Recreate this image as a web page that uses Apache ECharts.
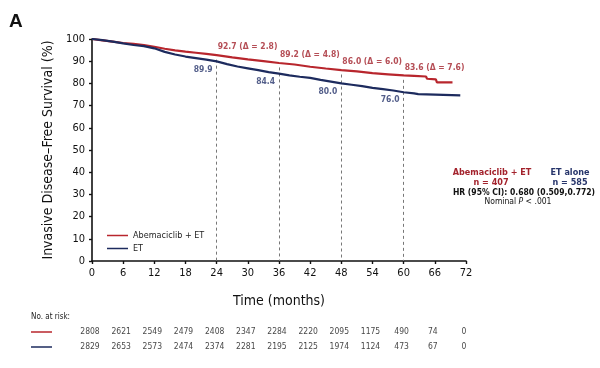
<!DOCTYPE html>
<html><head><meta charset="utf-8">
<script src="https://cdn.jsdelivr.net/npm/echarts@6/dist/echarts.min.js"></script>
<style>html,body{margin:0;padding:0;background:#fff}#c{width:600px;height:368px}</style>
</head><body><div id="c"></div>
<script>
// ---- data ----
const xTicks = [0, 6, 12, 18, 24, 30, 36, 42, 48, 54, 60, 66, 72];
const abemaMonths = [0, 2, 4, 6, 8, 10, 12, 14, 16, 18, 20, 22, 24, 27, 30, 33, 36, 39, 42, 45, 48, 51, 54, 57, 60, 62, 64.3, 64.5, 66.2, 66.4, 69.4];
const abemaSurv   = [100, 99.4, 98.8, 98.2, 97.8, 97.3, 96.5, 95.6, 94.9, 94.3, 93.8, 93.3, 92.7, 91.7, 90.8, 90.0, 89.2, 88.5, 87.5, 86.7, 86.0, 85.4, 84.6, 84.1, 83.6, 83.4, 83.1, 82.1, 81.8, 80.5, 80.5];
const etMonths = [0, 2, 4, 6, 8, 10, 12, 14, 16, 18, 20, 22, 24, 26, 28, 30, 32, 34, 36, 38, 40, 42, 44, 46, 48, 50, 52, 54, 56, 58, 60, 62, 62.8, 63, 70.9];
const etSurv   = [100, 99.5, 98.8, 98.0, 97.3, 96.8, 95.8, 94.2, 93.0, 92.1, 91.4, 90.7, 89.9, 88.7, 87.6, 86.8, 86.0, 85.1, 84.4, 83.6, 83.0, 82.5, 81.6, 80.8, 80.0, 79.4, 78.8, 78.0, 77.4, 76.8, 76.0, 75.5, 75.2, 74.6, 74.6];
const milestoneMonths = [24, 36, 48, 60];
const abemaMilestone = [92.7, 89.2, 86.0, 83.6];
const etMilestone = [89.9, 84.4, 80.0, 76.0];
const deltas = [2.8, 4.8, 6.0, 7.6];
const riskTimes = [0, 6, 12, 18, 24, 30, 36, 42, 48, 54, 60, 66, 72];
const riskAbema = [2808, 2621, 2549, 2479, 2408, 2347, 2284, 2220, 2095, 1175, 490, 74, 0];
const riskET    = [2829, 2653, 2573, 2474, 2374, 2281, 2195, 2125, 1974, 1124, 473, 67, 0];

// ---- style ----
const F = '"Liberation Sans Narrow","DejaVu Sans Condensed","Liberation Sans",sans-serif';
const RED = '#b8262d', BLUE = '#1d2b5e', RED_T = '#a3222c', BLUE_T = '#27356b';

const chart = echarts.init(document.getElementById('c'), null, {renderer: 'canvas'});
const axisCommon = {
  axisLine: {show: true, lineStyle: {color: '#111', width: 1.6}},
  axisTick: {show: true, length: 3, lineStyle: {color: '#111', width: 1.4}},
  axisLabel: {color: '#111', fontSize: 11, fontFamily: F, margin: 7},
  splitLine: {show: false}
};
chart.setOption({
  animation: false,
  backgroundColor: '#fff',
  grid: [
    {left: 92, top: 39, width: 374, height: 222},
    {left: 92, top: 332, width: 374, height: 15}
  ],
  xAxis: [
    Object.assign({type: 'value', gridIndex: 0, min: 0, max: 72, interval: 6,
      name: 'Time (months)', nameLocation: 'middle', nameGap: 33,
      nameTextStyle: {fontSize: 14, fontFamily: F, color: '#111'}}, axisCommon,
      {axisLabel: {color: '#111', fontSize: 11, fontFamily: F, margin: 7, formatter: v => xTicks.includes(v) ? String(v) : ''}}),
    {type: 'value', gridIndex: 1, min: 0, max: 72, show: false}
  ],
  yAxis: [
    Object.assign({type: 'value', gridIndex: 0, min: 0, max: 100, interval: 10,
      name: 'Invasive Disease–Free Survival (%)', nameLocation: 'middle', nameGap: 37,
      nameTextStyle: {fontSize: 14, fontFamily: F, color: '#111'}}, axisCommon),
    {type: 'value', gridIndex: 1, min: 0, max: 1, inverse: true, show: false}
  ],
  legend: {
    data: ['Abemaciclib + ET', 'ET'], orient: 'vertical', left: 102, top: 226,
    icon: 'rect', itemWidth: 21, itemHeight: 1.5, itemGap: 4,
    textStyle: {fontSize: 9, fontFamily: F, color: '#222', padding: [0, 0, 0, 0]},
    itemStyle: {borderWidth: 0}
  },
  series: [
    {name: 'Abemaciclib + ET', type: 'line', xAxisIndex: 0, yAxisIndex: 0, showSymbol: false, symbol: 'none',
      data: abemaMonths.map((m, i) => [m, abemaSurv[i]]), color: RED,
      lineStyle: {color: RED, width: 2.2}, z: 3},
    {name: 'ET', type: 'line', xAxisIndex: 0, yAxisIndex: 0, showSymbol: false, symbol: 'none',
      data: etMonths.map((m, i) => [m, etSurv[i]]), color: BLUE,
      lineStyle: {color: BLUE, width: 2.2}, z: 4},
    {type: 'scatter', xAxisIndex: 0, yAxisIndex: 0, symbolSize: 0, z: 5, silent: true,
      data: milestoneMonths.map((m, i) => [m, abemaMilestone[i], deltas[i]]),
      label: {show: true, position: 'right', distance: 1, offset: [0, -8], color: RED_T,
        fontSize: 8.5, fontWeight: 'bold', fontFamily: F,
        formatter: p => p.value[1].toFixed(1) + ' (Δ = ' + p.value[2].toFixed(1) + ')'}},
    {type: 'scatter', xAxisIndex: 0, yAxisIndex: 0, symbolSize: 0, z: 5, silent: true,
      data: milestoneMonths.map((m, i) => [m, etMilestone[i]]),
      label: {show: true, position: 'left', distance: 4, offset: [0, 8], color: BLUE_T,
        fontSize: 8.5, fontWeight: 'bold', fontFamily: F,
        formatter: p => p.value[1].toFixed(1)},
      markLine: {silent: true, symbol: 'none', z: 1, label: {show: false},
        lineStyle: {type: [3, 3], color: '#777', width: 1},
        data: milestoneMonths.map((m, i) => [{coord: [m, abemaMilestone[i] - 2]}, {coord: [m, 0]}])}},
    {type: 'scatter', xAxisIndex: 1, yAxisIndex: 1, symbolSize: 0, silent: true,
      data: riskTimes.map((t, i) => [t, 0, riskAbema[i]]),
      label: {show: true, position: 'inside', offset: [-2, 0], color: '#111', fontSize: 8.5, fontFamily: F,
        formatter: p => String(p.value[2])}},
    {type: 'scatter', xAxisIndex: 1, yAxisIndex: 1, symbolSize: 0, silent: true,
      data: riskTimes.map((t, i) => [t, 1, riskET[i]]),
      label: {show: true, position: 'inside', offset: [-2, 0], color: '#111', fontSize: 8.5, fontFamily: F,
        formatter: p => String(p.value[2])}}
  ],
  graphic: [
    {type: 'text', left: 9, top: 12, style: {text: 'A', fontSize: 19, fontWeight: 'bold', fontFamily: '"Liberation Sans",sans-serif', fill: '#111'}},
    {type: 'text', left: 31, top: 313, style: {text: 'No. at risk:', fontSize: 8, fontFamily: F, fill: '#222'}},
    {type: 'line', shape: {x1: 31, y1: 332, x2: 52, y2: 332}, style: {stroke: RED, lineWidth: 1.5}},
    {type: 'line', shape: {x1: 31, y1: 347, x2: 52, y2: 347}, style: {stroke: BLUE, lineWidth: 1.5}},
    {type: 'text', x: 492, y: 173, style: {text: 'Abemaciclib + ET', align: 'center', verticalAlign: 'middle', fontSize: 9, fontWeight: 'bold', fontFamily: F, fill: RED_T}},
    {type: 'text', x: 570, y: 173, style: {text: 'ET alone', align: 'center', verticalAlign: 'middle', fontSize: 9, fontWeight: 'bold', fontFamily: F, fill: BLUE_T}},
    {type: 'text', x: 491, y: 183, style: {text: 'n = 407', align: 'center', verticalAlign: 'middle', fontSize: 9, fontWeight: 'bold', fontFamily: F, fill: RED_T}},
    {type: 'text', x: 570, y: 183, style: {text: 'n = 585', align: 'center', verticalAlign: 'middle', fontSize: 9, fontWeight: 'bold', fontFamily: F, fill: BLUE_T}},
    {type: 'text', x: 524, y: 193, style: {text: 'HR (95% CI): 0.680 (0.509,0.772)', align: 'center', verticalAlign: 'middle', fontSize: 8.5, fontWeight: 'bold', fontFamily: F, fill: '#111'}},
    {type: 'text', x: 518, y: 202, style: {text: '{n|Nominal }{i|P}{n| < .001}', align: 'center', verticalAlign: 'middle',
      rich: {n: {fontSize: 8.5, fontFamily: F, fill: '#111', color: '#111'}, i: {fontSize: 8.5, fontStyle: 'italic', fontFamily: F, fill: '#111', color: '#111'}}}}
  ]
});
</script></body></html>
